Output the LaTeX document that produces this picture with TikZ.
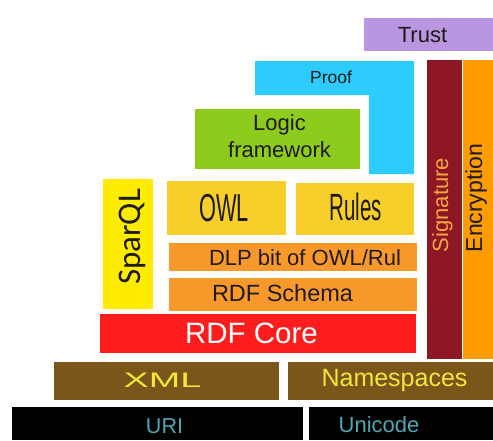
\documentclass[tikz,border=0pt]{standalone}
\usepackage{fontspec}
\setmainfont{Liberation Sans}
\newfontfamily\carlitofont{Carlito}
\definecolor{cTrust}{HTML}{BA96E2}
\definecolor{cProof}{HTML}{2DCCFF}
\definecolor{cSig}{HTML}{8E1726}
\definecolor{cSigT}{HTML}{F4A640}
\definecolor{cEnc}{HTML}{FF9C00}
\definecolor{cLogic}{HTML}{8DCB1D}
\definecolor{cSparql}{HTML}{FFEB00}
\definecolor{cOwl}{HTML}{F8CF2A}
\definecolor{cDlp}{HTML}{F9992B}
\definecolor{cCore}{HTML}{FF1C1C}
\definecolor{cXml}{HTML}{7B561B}
\definecolor{cXmlT}{HTML}{F0E83A}
\definecolor{cUriT}{HTML}{4EA7B3}
\definecolor{cDark}{HTML}{1E1A14}
\newcommand\myfs[1]{\fontsize{#1}{#1}\selectfont}
\begin{document}
\begin{tikzpicture}[x=1pt,y=-1pt,
  box/.style={draw=none, inner sep=0pt, outer sep=0pt, anchor=north west},
  lbl/.style={inner sep=0pt, outer sep=0pt, anchor=base, text=cDark}]
\useasboundingbox (0,0) rectangle (493,440);
% boxes
\node[box, fill=cTrust, minimum width=129pt, minimum height=33pt] (trust) at (364,18) {};
\fill[cProof] (255,61) -- (414,61) -- (414,174) -- (369,174) -- (369,95) -- (255,95) -- cycle;
\node[box, fill=cSig, minimum width=35pt, minimum height=299pt] (sig) at (427,60) {};
\node[box, fill=cEnc, minimum width=30pt, minimum height=299pt] (enc) at (463,60) {};
\node[box, fill=cLogic, minimum width=165pt, minimum height=60pt] (logic) at (195,109) {};
\node[box, fill=cSparql, minimum width=50pt, minimum height=130pt] (sparql) at (103,179) {};
\node[box, fill=cOwl, minimum width=119pt, minimum height=54pt] (owl) at (167,181) {};
\node[box, fill=cOwl, minimum width=118pt, minimum height=52pt] (rules) at (296,183) {};
\node[box, fill=cDlp, minimum width=248pt, minimum height=28pt] (dlp) at (169,243) {};
\node[box, fill=cDlp, minimum width=248pt, minimum height=33pt] (rdfs) at (169,278) {};
\node[box, fill=cCore, minimum width=316pt, minimum height=39pt] (core) at (100,314) {};
\node[box, fill=cXml, minimum width=225pt, minimum height=38pt] (xml) at (54,362) {};
\node[box, fill=cXml, minimum width=205pt, minimum height=38pt] (ns) at (288,362) {};
\node[box, fill=black, minimum width=291pt, minimum height=33pt] (uri) at (12,407) {};
\node[box, fill=black, minimum width=184pt, minimum height=33pt] (uni) at (309,407) {};
% labels
\node[lbl] (trustT) at (422.5,42.7) {\myfs{22}Trust};
\node[lbl] (proofT) at (331,83.5) {\myfs{17.5}Proof};
\node[lbl] (logicT) at (279.5,130) {\myfs{22}Logic};
\node[lbl] (frameT) at (279.5,157.7) {\myfs{22}framework};
\node[lbl] (owlT) at (224,221) {\scalebox{0.56}[1]{\myfs{39}OWL}};
\node[lbl] (rulesT) at (356,220) {\scalebox{0.54}[1]{\myfs{38}Rules}};
\node[lbl, anchor=base west] (dlpT) at (209,265) {\myfs{22}DLP bit of OWL/Rul};
\node[lbl, anchor=base west] (rdfsT) at (212,301.7) {\myfs{23.5}RDF Schema};
\node[lbl, text=white] (coreT) at (251.5,343) {\myfs{29.5}RDF Core};
\node[lbl, text=cXmlT] (xmlT) at (162.5,387) {\scalebox{1.8}[1]{\myfs{21}XML}};
\node[lbl, text=cXmlT] (nsT) at (394.5,386.7) {\myfs{25}Namespaces};
\node[lbl, text=cUriT] (uriT) at (164.5,433.3) {\myfs{21.5}URI};
\node[lbl, text=cUriT] (uniT) at (379,432) {\myfs{22}Unicode};
\node[lbl, text=cSigT, rotate=90] (sigT) at (448,205) {\myfs{22}Signature};
\node[lbl, rotate=90] (encT) at (482,198) {\myfs{23}Encryption};
\node[lbl, rotate=90] (sparqlT) at (140,237) {\carlitofont\myfs{33}SparQL};
\end{tikzpicture}
\end{document}
